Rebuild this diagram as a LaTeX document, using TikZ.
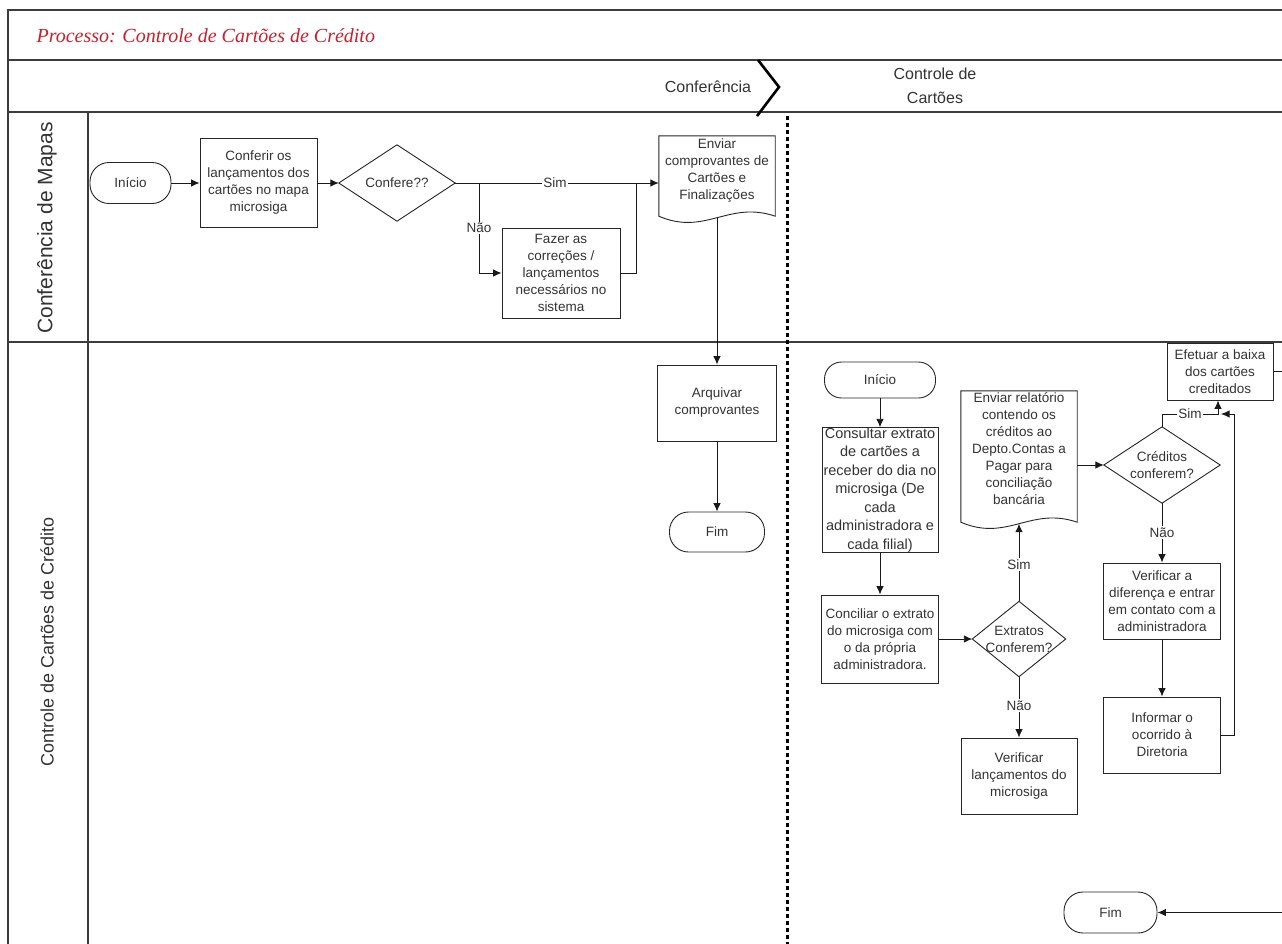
\documentclass[tikz,border=0pt]{standalone}
\usepackage{fontspec}
\setmainfont{Liberation Sans}
\newfontfamily\titlefont{Liberation Serif}
\usetikzlibrary{arrows.meta,calc}
\definecolor{titlered}{RGB}{200,32,44}
\definecolor{framegray}{RGB}{60,60,60}
\newcommand{\docoutline}[2]{%
  \draw[shapeline] (#1.north west) -- (#1.north east) -- ($(#1.south east)+(0,#2)$)
    .. controls ($(#1.south west)!0.6!(#1.south east)+(0,#2-16)$) and ($(#1.south west)!0.4!(#1.south east)+(0,#2+20)$)
    .. ($(#1.south west)+(0,#2)$) -- cycle;}
\newcommand{\diamondoutline}[1]{%
  \draw[shapeline] (#1.north) -- (#1.east) -- (#1.south) -- (#1.west) -- cycle;}
\begin{document}
\begin{tikzpicture}[x=1pt,y=-1pt,
  frame/.style={line width=1.6pt, draw=framegray},
  shapeline/.style={line width=0.9pt, draw=black!85},
  txt/.style={align=center, font=\fontsize{13.5}{17}\selectfont, text=black!80},
  box/.style={txt, shapeline, draw, inner sep=0pt},
  hidden/.style={txt, inner sep=0pt},
  term/.style={txt, shapeline, draw, inner sep=0pt, rounded corners=19pt},
  arr/.style={line width=0.9pt, draw=black!90, -{Latex[length=8.5pt,width=7.5pt]}},
  ln/.style={line width=0.9pt, draw=black!90},
  lbl/.style={txt, fill=white, inner sep=1.5pt},
  lanelbl/.style={text=black!80, rotate=90},
  hdr/.style={font=\fontsize{16}{24}\selectfont, text=black!80, align=center}
]
\useasboundingbox (0,0) rectangle (1282,943);
\fill[white] (0,0) rectangle (1282,943);

% ---- frame ----
\draw[frame] (8,960) -- (8,10) -- (1300,10);
\draw[frame] (8,60) -- (1300,60);
\draw[frame] (8,112) -- (1300,112);
\draw[frame] (8,342) -- (1300,342);
\draw[frame] (88,112) -- (88,960);
\draw[line width=2.6pt, draw=black] (758,60) -- (779,87) -- (757,116);
\draw[line width=3pt, draw=black, dash pattern=on 4pt off 3pt] (787,116) -- (787,960);

\node[anchor=west, font=\titlefont\itshape\fontsize{20}{24}\selectfont, text=titlered] (title) at (33,36) {Processo: Controle de Cartões de Crédito};
\node[hdr] (ph1) at (708,87) {Conferência};
\node[hdr] (ph2) at (935,86) {Controle de\\Cartões};
\node[lanelbl, font=\fontsize{21}{25}\selectfont] (lane1) at (47,228) {Conferência de Mapas};
\node[lanelbl, font=\fontsize{18}{22}\selectfont] (lane2) at (47,642) {Controle de Cartões de Crédito};

% ---- lane 1 ----
\node[term, minimum width=81pt, minimum height=41pt] (ini1) at (130.5,183) {Início};
\node[box, minimum width=117pt, minimum height=89pt] (conf) at (258.5,183) {Conferir os\\lançamentos dos\\cartões no mapa\\microsiga};
\node[hidden, minimum width=116pt, minimum height=76pt] (dec1) at (397,183) {Confere??};
\diamondoutline{dec1}
\node[box, minimum width=118pt, minimum height=90pt] (fazer) at (561,273) {Fazer as\\correções /\\lançamentos\\necessários no\\sistema};
\node[hidden, minimum width=116pt, minimum height=70pt] (env1) at (717,171) {Enviar\\comprovantes de\\Cartões e\\Finalizações};
\docoutline{env1}{10}
\coordinate (env1b) at ($(env1.south)+(0,11.5)$);

\coordinate (b1) at (479,183);
\coordinate (j1) at (636,183);
\draw[arr] (ini1.east) -- (conf.west);
\draw[arr] (conf.east) -- (dec1.west);
\draw[arr] (dec1.east) -- node[lbl, pos=0.49] (s1) {Sim} (dec1.east -| env1.west);
\draw[arr] (b1) |- node[lbl, pos=0.25] (n1) {Não} (fazer.west);
\draw[ln] (fazer.east) -| (j1);

% ---- lane 2, left ----
\node[box, minimum width=119pt, minimum height=76pt] (arq) at (717,403) {Arquivar\\comprovantes};
\node[term, minimum width=95pt, minimum height=40pt] (fim1) at (717,532) {Fim};
\draw[arr] (env1b) -- (arq.north);
\draw[arr] (arq.south) -- (fim1.north);

% ---- lane 2, right ----
\node[term, minimum width=111pt, minimum height=36pt, rounded corners=17pt] (ini2) at (880,380) {Início};
\node[box, minimum width=116pt, minimum height=117pt, font=\fontsize{14.5}{18.5}\selectfont] (cons) at (880,490) {Consultar extrato\\de cartões a\\receber do dia no\\microsiga (De\\cada\\administradora e\\cada filial)};
\node[box, minimum width=117pt, minimum height=88pt] (conc) at (880,639) {Conciliar o extrato\\do microsiga com\\o da própria\\administradora.};
\node[hidden, minimum width=93pt, minimum height=75pt] (dec2) at (1019,639) {Extratos\\Conferem?};
\diamondoutline{dec2}
\node[hidden, minimum width=116pt, minimum height=116pt] (env2) at (1019,449) {Enviar relatório\\contendo os\\créditos ao\\Depto.Contas a\\Pagar para\\conciliação\\bancária};
\docoutline{env2}{15}
\coordinate (env2b) at ($(env2.south)+(0,16.5)$);
\node[box, minimum width=116pt, minimum height=76pt] (vl) at (1019,776) {Verificar\\lançamentos do\\microsiga};
\node[hidden, minimum width=116pt, minimum height=76pt] (dec3) at (1162,465) {Créditos\\conferem?};
\diamondoutline{dec3}
\node[box, minimum width=106pt, minimum height=57pt] (efet) at (1220,371.5) {Efetuar a baixa\\dos cartões\\creditados};
\node[box, minimum width=117pt, minimum height=76pt] (ver) at (1162,601) {Verificar a\\diferença e entrar\\em contato com a\\administradora};
\node[box, minimum width=117pt, minimum height=76pt] (inf) at (1162,735) {Informar o\\ocorrido à\\Diretoria};
\node[term, minimum width=93pt, minimum height=41pt] (fim2) at (1110.5,912.5) {Fim};

\coordinate (c1) at (1218,414);
\coordinate (c2) at (1234,414);
\coordinate (c3) at (1300,912.5);

\draw[arr] (ini2.south) -- (cons.north);
\draw[arr] (cons.south) -- (conc.north);
\draw[arr] (conc.east) -- (dec2.west);
\draw[arr] (dec2.north) -- node[lbl, pos=0.47] (s2) {Sim} (env2b);
\draw[arr] (dec2.south) -- node[lbl, pos=0.47] (n2) {Não} (vl.north);
\draw[arr] (env2.east |- dec3.west) -- (dec3.west);
\draw[arr] (dec3.north) |- node[lbl, pos=0.75] (s3) {Sim} (c1) -- (c1 |- efet.south);
\draw[arr] (dec3.south) -- node[lbl, pos=0.5] (n3) {Não} (ver.north);
\draw[arr] (ver.south) -- (inf.north);
\draw[arr] (inf.east) -| (c2) -- ($(c1)+(3,0)$);
\draw[arr] (efet.east) -| (c3) -- (fim2.east);
\end{tikzpicture}
\end{document}
